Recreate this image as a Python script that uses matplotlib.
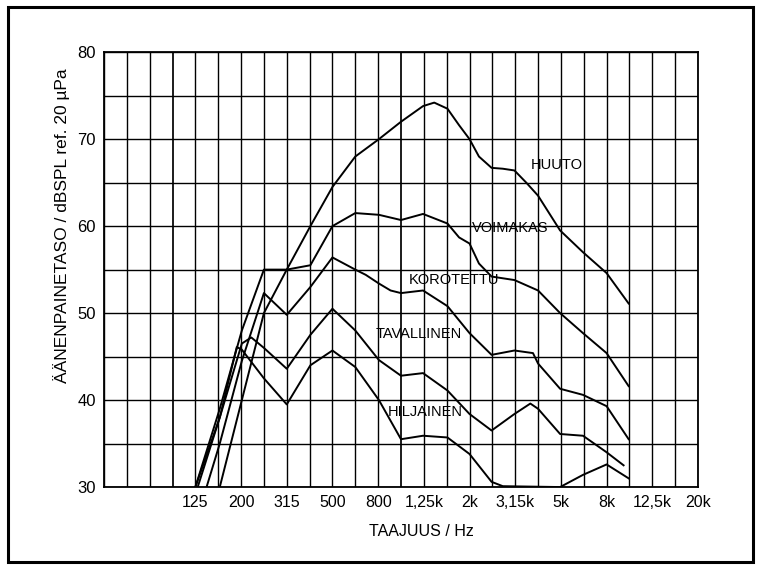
import numpy as np
import matplotlib
matplotlib.use("Agg")
import matplotlib.pyplot as plt
from matplotlib.patches import Rectangle

plt.rcParams['font.family'] = ['Liberation Sans', 'DejaVu Sans']

# third-octave band labels shown on the x axis
tick_labels = ['125', '200', '315', '500', '800', '1,25k', '2k', '3,15k', '5k', '8k', '12,5k', '20k']
tick_bands = [4, 6, 8, 10, 12, 14, 16, 18, 20, 22, 24, 26]   # band index from 50 Hz

# curves: frequency (Hz) and level (dB)
huuto_f = [160, 200, 250, 315, 400, 500, 630, 800, 1000, 1250, 1400, 1600, 1800, 2000,
           2200, 2500, 2800, 3150, 3550, 4000, 5000, 6300, 8000, 10000]
huuto_db = [30, 40, 50, 55, 60, 64.5, 68, 70, 72, 73.8, 74.2, 73.5, 71.6, 70,
            68, 66.7, 66.6, 66.4, 65, 63.5, 59.5, 57, 54.6, 51.1]

voimakas_f = [125, 160, 200, 250, 315, 400, 500, 630, 800, 1000, 1250, 1600, 1800, 2000,
              2200, 2500, 3150, 4000, 5000, 6300, 8000, 10000]
voimakas_db = [30, 39, 48, 55, 55, 55.5, 60, 61.5, 61.3, 60.7, 61.4, 60.3, 58.7, 58,
               55.7, 54.2, 53.8, 52.6, 50, 47.7, 45.4, 41.6]

korotettu_f = [140, 160, 200, 250, 315, 400, 500, 630, 700, 800, 900, 1000, 1250, 1600,
               2000, 2500, 3150, 3800, 4000, 5000, 6300, 8000, 10000]
korotettu_db = [30, 35, 44.5, 52.3, 49.8, 53, 56.4, 55, 54.4, 53.4, 52.6, 52.3, 52.6, 50.8,
                47.7, 45.2, 45.7, 45.4, 44.2, 41.3, 40.6, 39.3, 35.5]

tavallinen_f = [125, 160, 200, 220, 250, 315, 400, 500, 630, 800, 1000, 1250, 1600, 2000,
                2500, 3150, 3700, 4000, 5000, 6300, 8000, 9500]
tavallinen_db = [30, 38, 46.5, 47.2, 46, 43.6, 47.5, 50.5, 48, 44.6, 42.8, 43.1, 41.1, 38.4,
                 36.5, 38.4, 39.6, 39, 36.1, 35.9, 34, 32.5]

hiljainen_f = [128, 160, 190, 200, 250, 315, 400, 500, 630, 800, 1000, 1250, 1600, 2000,
               2500, 2800, 5000, 6300, 8000, 10000]
hiljainen_db = [30, 38, 46.1, 45.8, 42.5, 39.5, 44, 45.7, 43.8, 40, 35.5, 35.9, 35.7, 33.8,
                30.6, 30.1, 30, 31.4, 32.6, 31]

curve_names = ['HUUTO', 'VOIMAKAS', 'KOROTETTU', 'TAVALLINEN', 'HILJAINEN']
name_pos = [(4840, 67.0), (3010, 59.8), (1708, 53.8), (1200, 47.6), (1274, 38.6)]


def band(k):
    return 1000 * 2 ** ((k - 13) / 3)


fig = plt.figure(figsize=(7.59, 5.67), dpi=100)
ax = fig.add_axes([0.137, 0.141, 0.7826, 0.767])

# outer frame of the figure
fig.patches.append(Rectangle((0.011, 0.008), 0.981, 0.979, transform=fig.transFigure,
                             fill=False, edgecolor='black', linewidth=2.2))

ax.set_xscale('log')
ax.set_xlim(band(0), band(26))
ax.set_ylim(30, 80)

# grid lines: every third-octave band and every 5 dB
for k in range(27):
    lw = 1.25 if k in (3, 13) else 1.0
    ax.axvline(band(k), color='black', linewidth=lw, zorder=1)
for v in range(30, 81, 5):
    ax.axhline(v, color='black', linewidth=1.0, zorder=1)

for f, db in [(huuto_f, huuto_db), (voimakas_f, voimakas_db), (korotettu_f, korotettu_db),
              (tavallinen_f, tavallinen_db), (hiljainen_f, hiljainen_db)]:
    ax.plot(f, db, color='black', linewidth=1.4, zorder=3)

for name, (x, y) in zip(curve_names, name_pos):
    ax.text(x, y, name, fontsize=10.5, ha='center', va='center', zorder=4)

ax.set_xticks([band(k) for k in tick_bands])
ax.set_xticklabels(tick_labels)
ax.xaxis.set_minor_locator(matplotlib.ticker.NullLocator())
ax.set_yticks(np.arange(30, 81, 10))
ax.tick_params(length=0, pad=6)
ax.tick_params(axis='x', labelsize=11.5)
ax.tick_params(axis='y', labelsize=12)

ax.set_xlabel('TAAJUUS / Hz', fontsize=11.5, labelpad=6)
ax.xaxis.set_label_coords(0.535, -0.085)
ax.set_ylabel('ÄÄNENPAINETASO / dBSPL ref. 20 µPa', fontsize=12.5, labelpad=10)
ax.yaxis.set_label_coords(-0.057, 0.6)

for s in ax.spines.values():
    s.set_linewidth(1.3)

fig.savefig('out.png', dpi=100)
